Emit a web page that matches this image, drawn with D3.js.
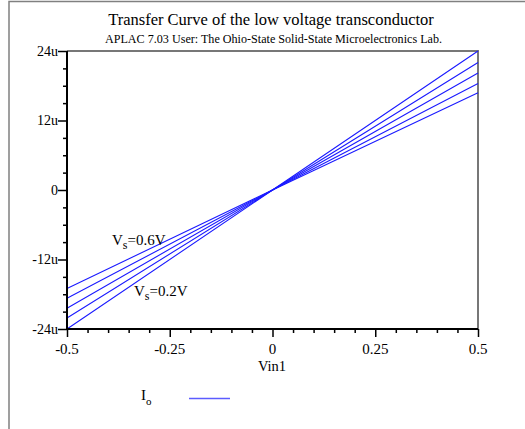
<!DOCTYPE html>
<html>
<head>
<meta charset="utf-8">
<script src="https://cdn.jsdelivr.net/npm/d3@7"></script>
<style>
  body { margin: 0; background: #fff; }
  svg { display: block; }
  svg text { font-family: "Liberation Serif", "DejaVu Serif", serif; fill: #000; }
</style>
</head>
<body>
<div id="chart"></div>
<script>
// Data (Io in uA against Vin1 in V)
const vin = [-0.5, 0, 0.5];
const io1 = [-24.0, 0, 24.0];
const io2 = [-22.1, 0, 22.0];
const io3 = [-20.4, 0, 20.2];
const io4 = [-18.7, 0, 18.4];
const io5 = [-17.0, 0, 16.8];
const curves = [io1, io2, io3, io4, io5];

const xMajor = [-0.5, -0.25, 0, 0.25, 0.5];
const xMajorLabels = ["-0.5", "-0.25", "0", "0.25", "0.5"];
const yMajor = [-24, -12, 0, 12, 24];
const yMajorLabels = ["-24u", "-12u", "0", "12u", "24u"];

const width = 525, height = 429;
const plot = { left: 67, top: 51, right: 478, bottom: 329 };

const svg = d3.select("#chart")
    .append("svg")
    .attr("width", width)
    .attr("height", height);

// outer frame (only top and left edge fall inside the window)
svg.append("rect")
    .attr("x", 9).attr("y", 1.5)
    .attr("width", 540).attr("height", 450)
    .attr("fill", "none")
    .attr("stroke", "#808080")
    .attr("stroke-width", 1.5);

const x = d3.scaleLinear().domain([-0.5, 0.5]).range([plot.left, plot.right]);
const y = d3.scaleLinear().domain([-24, 24]).range([plot.bottom, plot.top]);

// title
svg.append("text")
    .attr("x", 271).attr("y", 25)
    .attr("text-anchor", "middle")
    .attr("font-size", 16.5)
    .text("Transfer Curve of the low voltage transconductor");

svg.append("text")
    .attr("x", 105).attr("y", 43)
    .attr("font-size", 13)
    .attr("textLength", 337)
    .attr("lengthAdjust", "spacingAndGlyphs")
    .text("APLAC 7.03 User: The Ohio-State Solid-State Microelectronics Lab.");

// top and right frame of plot
svg.append("path")
    .attr("d", `M${plot.left},${plot.top}H${plot.right}V${plot.bottom}`)
    .attr("fill", "none")
    .attr("stroke", "#777")
    .attr("stroke-width", 2);

// curves
const line = d3.line()
    .x((d, i) => x(vin[i]))
    .y(d => y(d));

svg.append("g")
    .selectAll("path")
    .data(curves)
    .join("path")
    .attr("d", d => line(d))
    .attr("fill", "none")
    .attr("stroke", "#1a1aff")
    .attr("stroke-width", 1.1);

// y axis
const yAxis = svg.append("g").attr("transform", `translate(${plot.left},0)`);
yAxis.call(d3.axisLeft(y).tickValues(d3.range(-24, 25, 3)).tickSize(4).tickFormat(""));
yAxis.call(g => g.selectAll(".tick").filter(d => yMajor.includes(d)).select("line").attr("x2", -9));
yAxis.selectAll(".tick line").attr("stroke", "#000").attr("stroke-width", 1.5);
yAxis.select(".domain").attr("stroke", "#000").attr("stroke-width", 2).attr("d", `M0,${plot.top}V${plot.bottom}`);

yAxis.selectAll(".ylab")
    .data(yMajor)
    .join("text")
    .attr("class", "ylab")
    .attr("x", -9)
    .attr("y", d => y(d) + 4.5)
    .attr("text-anchor", "end")
    .attr("font-size", 14)
    .text((d, i) => yMajorLabels[i]);

// x axis
const xAxis = svg.append("g").attr("transform", `translate(0,${plot.bottom})`);
xAxis.call(d3.axisBottom(x).tickValues(d3.range(-10, 11).map(v => v * 0.05)).tickSize(4).tickFormat(""));
xAxis.call(g => g.selectAll(".tick").filter(d => xMajor.some(m => Math.abs(m - d) < 1e-9)).select("line").attr("y2", 8));
xAxis.selectAll(".tick line").attr("stroke", "#000").attr("stroke-width", 1.5);
xAxis.select(".domain").attr("stroke", "#000").attr("stroke-width", 2).attr("d", `M${plot.left},0H${plot.right}`);

xAxis.selectAll(".xlab")
    .data(xMajor)
    .join("text")
    .attr("class", "xlab")
    .attr("x", d => x(d))
    .attr("y", 25)
    .attr("text-anchor", "middle")
    .attr("font-size", 15)
    .text((d, i) => xMajorLabels[i]);

svg.append("text")
    .attr("x", 272).attr("y", 371)
    .attr("text-anchor", "middle")
    .attr("font-size", 14.5)
    .text("Vin1");

// Vs annotations
function vsLabel(px, py, val) {
    const t = svg.append("text").attr("x", px).attr("y", py).attr("font-size", 15);
    t.append("tspan").text("V");
    t.append("tspan").attr("dy", 4).attr("font-size", 12).text("s");
    t.append("tspan").attr("dy", -4).text("=" + val + "V");
}
vsLabel(112, 245, "0.6");
vsLabel(134, 296, "0.2");

// legend
const leg = svg.append("text").attr("x", 141).attr("y", 400).attr("font-size", 15);
leg.append("tspan").text("I");
leg.append("tspan").attr("dy", 5).attr("font-size", 11).text("o");

svg.append("line")
    .attr("x1", 189).attr("x2", 230)
    .attr("y1", 398.5).attr("y2", 398.5)
    .attr("stroke", "#5c5cff")
    .attr("stroke-width", 1.3);
</script>
</body>
</html>
